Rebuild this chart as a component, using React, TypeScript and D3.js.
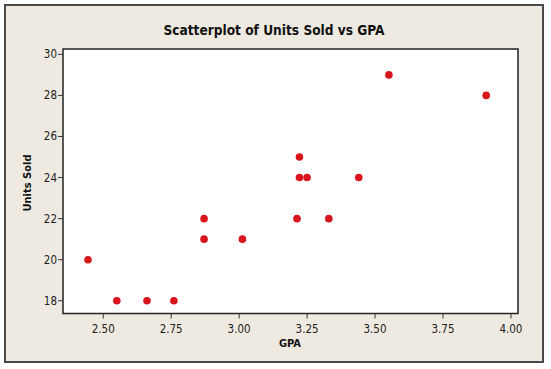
import React from "react";
import * as d3 from "d3";

const gpa = [2.444, 2.55, 2.661, 2.76, 2.871, 2.871, 3.012, 3.213, 3.222, 3.222, 3.25, 3.33, 3.44, 3.551, 3.909];
const unitsSold = [20, 18, 18, 18, 22, 21, 21, 22, 25, 24, 24, 22, 24, 29, 28];
const xTicks = [2.5, 2.75, 3.0, 3.25, 3.5, 3.75, 4.0];
const yTicks = [18, 20, 22, 24, 26, 28, 30];

const W = 551;
const H = 369;
const plot = { left: 63, right: 518, top: 49, bottom: 313.5 };
const font = "Tahoma, 'DejaVu Sans Condensed', 'DejaVu Sans', sans-serif";

export default function App() {
  const x = d3.scaleLinear().domain([2.352, 4.026]).range([plot.left, plot.right]);
  const y = d3.scaleLinear().domain([17.38, 30.26]).range([plot.bottom, plot.top]);
  const fmt = d3.format(".2f");
  return (
    <svg width={W} height={H} style={{ position: "absolute", left: 0, top: 0 }}>
      <rect x={0} y={0} width={W} height={H} fill="#ffffff" />
      <rect x={5} y={5} width={538} height={357} fill="#EEEAE1" stroke="#4a4a4a" strokeWidth={2} />
      <text x={274} y={35} textAnchor="middle" fontFamily={font} fontWeight="bold" fontSize={13.6} fill="#111">
        Scatterplot of Units Sold vs GPA
      </text>
      <rect x={plot.left} y={plot.top} width={plot.right - plot.left} height={plot.bottom - plot.top} fill="#ffffff" stroke="#222" strokeWidth={1.5} />
      {yTicks.map((t) => (
        <g key={"y" + t}>
          <line x1={plot.left - 5} x2={plot.left} y1={y(t)} y2={y(t)} stroke="#333" strokeWidth={1} />
          <text x={plot.left - 6} y={y(t) + 4} textAnchor="end" fontFamily={font} fontSize={11.5} fill="#222">
            {t}
          </text>
        </g>
      ))}
      {xTicks.map((t) => (
        <g key={"x" + t}>
          <line x1={x(t)} x2={x(t)} y1={plot.bottom} y2={plot.bottom + 5} stroke="#333" strokeWidth={1} />
          <text x={x(t)} y={plot.bottom + 19} textAnchor="middle" fontFamily={font} fontSize={11.5} fill="#222">
            {fmt(t)}
          </text>
        </g>
      ))}
      <text x={290} y={347} textAnchor="middle" fontFamily={font} fontWeight="bold" fontSize={11} fill="#111">
        GPA
      </text>
      <text transform={`translate(31,183) rotate(-90)`} textAnchor="middle" fontFamily={font} fontWeight="bold" fontSize={11} fill="#111">
        Units Sold
      </text>
      {gpa.map((g, i) => (
        <circle key={i} cx={x(g)} cy={y(unitsSold[i])} r={3.8} fill="#D8151C" />
      ))}
    </svg>
  );
}
